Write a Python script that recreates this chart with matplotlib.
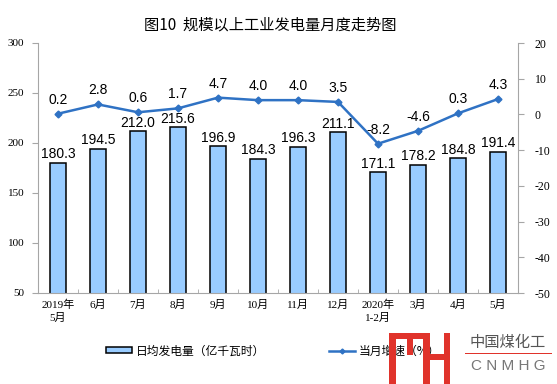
import matplotlib
matplotlib.use("Agg")
import matplotlib.pyplot as plt
from matplotlib.patches import Rectangle, Patch
from matplotlib.lines import Line2D

plt.rcParams['axes.unicode_minus'] = False

# data
months = ['2019年\n5月', '6月', '7月', '8月', '9月', '10月', '11月', '12月',
          '2020年\n1-2月', '3月', '4月', '5月']
daily_output = [180.3, 194.5, 212.0, 215.6, 196.9, 184.3, 196.3, 211.1,
                171.1, 178.2, 184.8, 191.4]
growth = [0.2, 2.8, 0.6, 1.7, 4.7, 4.0, 4.0, 3.5, -8.2, -4.6, 0.3, 4.3]

BAR_COLOR = "#99CCFF"
LINE_COLOR = "#2F72C4"
AXIS_GRAY = "#A6A6A6"
CJK = ['Noto Sans CJK SC', 'DejaVu Sans']
SERIF_CJK = ['Liberation Serif', 'Noto Sans CJK SC']
NUM = ['Liberation Sans', 'DejaVu Sans']

W, H = 557, 384
fig = plt.figure(figsize=(W / 100, H / 100), dpi=100)
ax = fig.add_axes([38 / W, 1 - 293 / H, 480 / W, 250 / H])
ax2 = ax.twinx()

x = list(range(len(months)))

# bars
ax.bar(x, daily_output, width=0.42, color=BAR_COLOR, edgecolor="black",
       linewidth=1.1, zorder=2)
for xi, v in zip(x, daily_output):
    ax.annotate(f"{v:.1f}", (xi, v), xytext=(0, 1), textcoords="offset points",
                ha="center", va="bottom", fontsize=10, family=NUM)

ax.set_xlim(-0.5, len(months) - 0.5)
ax.set_ylim(50, 300)
ax.set_yticks(range(50, 301, 50))

# line
ax2.plot(x, growth, color=LINE_COLOR, linewidth=1.8, marker="D",
         markersize=3.5, zorder=3)
for xi, v in zip(x, growth):
    ax2.annotate(f"{v:.1f}", (xi, v), xytext=(0, 5), textcoords="offset points",
                 ha="center", va="bottom", fontsize=10, family=NUM)
ax2.set_ylim(-50, 20)
ax2.set_yticks(range(-50, 21, 10))

# axes styling
for a in (ax, ax2):
    a.spines["top"].set_visible(False)
    for s in ("left", "right", "bottom"):
        a.spines[s].set_color(AXIS_GRAY)
ax.spines["right"].set_visible(False)
ax2.spines["left"].set_visible(False)
ax2.spines["bottom"].set_visible(False)

ax.set_xticks(x)
ax.set_xticklabels(months, family=SERIF_CJK, fontsize=8, linespacing=1.3)
ax.tick_params(axis="x", length=0, pad=5)
ax.set_xticks([i + 0.5 for i in x[:-1]], minor=True)
ax.tick_params(axis="x", which="minor", direction="in", length=3,
               color=AXIS_GRAY)
ax.tick_params(axis="y", length=4, color=AXIS_GRAY, labelsize=8, pad=6)
ax2.tick_params(axis="y", length=4, color=AXIS_GRAY, labelsize=8.5, pad=8)
for lbl in ax.get_yticklabels() + ax2.get_yticklabels():
    lbl.set_family(['Liberation Serif'])

# title
fig.text(0.485, 1 - 25 / H, "图10  规模以上工业发电量月度走势图", ha="center",
         va="center", fontsize=11, family=CJK)

# legend
handles = [
    Patch(facecolor=BAR_COLOR, edgecolor="black", linewidth=1.1),
    Line2D([0], [0], color=LINE_COLOR, linewidth=1.8, marker="D",
           markersize=2.5),
]
fig.legend(handles, ["日均发电量（亿千瓦时）", "当月增速（%）"],
           loc="center", bbox_to_anchor=(273 / W, 1 - 351 / H), ncol=2,
           frameon=False, prop={"family": CJK, "size": 8.5},
           handlelength=2.2, handleheight=0.45, handletextpad=0.35,
           columnspacing=5.4)


# watermark logo (pixel boxes -> figure fraction)
def box(x0, y0, w, h, **kw):
    fig.add_artist(Rectangle((x0 / W, 1 - (y0 + h) / H), w / W, h / H,
                             transform=fig.transFigure, **kw))


box(396, 328, 161, 56, facecolor="white", edgecolor="none", alpha=0.85,
    zorder=5)
red = dict(facecolor="#E0332B", edgecolor="none", zorder=6)
box(389, 333, 7, 51, **red)
box(389, 333, 41, 6, **red)
box(407, 333, 6, 22, **red)
box(423, 333, 7, 51, **red)
box(423, 354, 27, 6, **red)
box(444, 333, 6, 51, **red)
box(465, 353, 87, 1.2, facecolor="#E0332B", edgecolor="none", zorder=6)
fig.text(508 / W, 1 - 342 / H, "中国煤化工", ha="center", va="center",
         fontsize=11, family=CJK, color="#555555", zorder=7)
fig.text(508 / W, 1 - 366 / H, "C N M H G", ha="center", va="center",
         fontsize=11, family=['Liberation Sans'], color="#777777", zorder=7)

fig.savefig("out.png", dpi=100)
plt.close(fig)
